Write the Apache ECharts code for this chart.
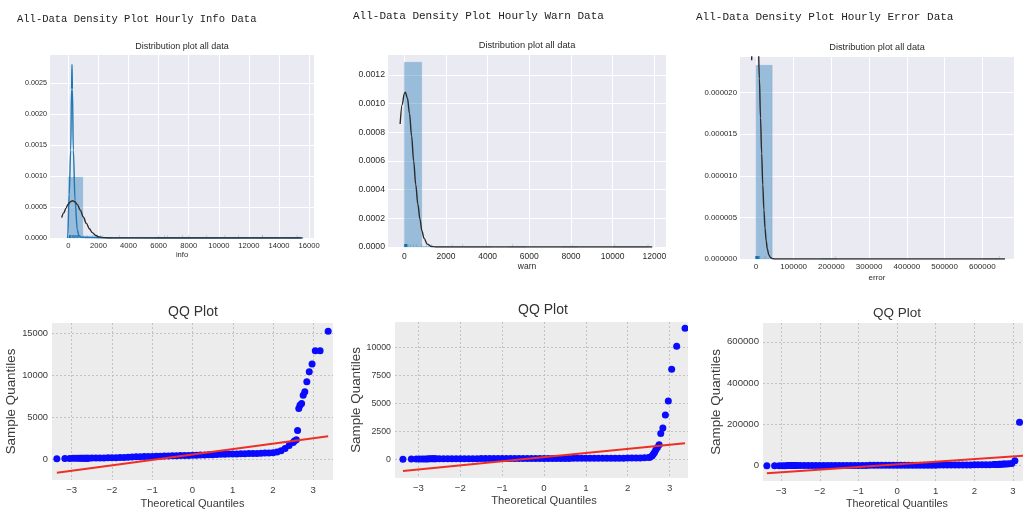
<!DOCTYPE html>
<html>
<head>
<meta charset="utf-8">
<script src="https://cdn.jsdelivr.net/npm/echarts@6/dist/echarts.min.js"></script>
<style>
  html, body { margin: 0; padding: 0; background: #ffffff; }
  #chart { width: 1023px; height: 512px; }
</style>
</head>
<body>
<div id="chart"></div>
<script>
// ---------- headers ----------
const headerInfo = 'All-Data Density Plot Hourly Info Data';
const headerWarn = 'All-Data Density Plot Hourly Warn Data';
const headerError = 'All-Data Density Plot Hourly Error Data';
const histTitle = 'Distribution plot all data';
const qqTitle = 'QQ Plot';

// ---------- histogram bins: [from, to, density] ----------
const infoHist = [[0, 960, 0.00098], [960, 1920, 0.00003], [1920, 2880, 0.000006], [5760, 6720, 0.000006],
  [6720, 7680, 0.000004], [7680, 8640, 0.000004], [8640, 9600, 0.000002], [9600, 10560, 0.000002],
  [10560, 11520, 0.000002], [12480, 13440, 0.000004], [14400, 15360, 0.000002]];
const warnHist = [[0, 835, 0.00129], [835, 1670, 0.000003], [1670, 2505, 0.000002], [2505, 3340, 0.000001],
  [3340, 4175, 0.000001], [5010, 5845, 0.000001], [7515, 8350, 0.000001], [10020, 10855, 0.000001],
  [10855, 11700, 0.000001]];
const errorHist = [[0, 43000, 0.0000233], [172000, 215000, 0.00000002], [602000, 645000, 0.00000002]];

// ---------- fitted normal curves: [x, density] ----------
const infoFit = [[-440, 0.000328], [-300, 0.000405], [-150, 0.000482], [0, 0.000546], [150, 0.000587],
  [290, 0.0006], [450, 0.000583], [600, 0.000538], [800, 0.000447], [1000, 0.000339], [1200, 0.000235],
  [1400, 0.000149], [1600, 0.0000864], [1800, 0.0000455], [2000, 0.000022], [2300, 0.0000062],
  [2700, 0.0000008], [3200, 0], [15500, 0]];
const warnFit = [[-200, 0.000858], [-100, 0.000994], [0, 0.00107], [50, 0.00108], [150, 0.00104],
  [250, 0.000932], [350, 0.000776], [450, 0.0006], [550, 0.000435], [650, 0.0003], [750, 0.000195],
  [850, 0.00011], [950, 0.00006], [1100, 0.00002], [1300, 0.000004], [1500, 0.0000005], [1700, 0], [11900, 0]];
const errorFit = [[-11500, 0.0000239], [-8000, 0.0000284], [-4000, 0.0000315], [-2000, 0.0000319],
  [0, 0.0000315], [3000, 0.0000294], [6000, 0.000026], [9000, 0.0000217], [12000, 0.000017],
  [15000, 0.0000127], [18000, 0.0000089], [21000, 0.0000059], [24000, 0.0000037], [27000, 0.0000022],
  [30000, 0.0000012], [34000, 0.0000005], [38000, 0.0000002], [43000, 0.00000005], [50000, 0], [660000, 0]];

// ---------- kernel density of the info counts ----------
const infoKde = [[-60, 0], [-40, 0.00003], [60, 0.0007], [160, 0.00142], [215, 0.0024], [245, 0.0028],
  [275, 0.0024], [333, 0.00142], [450, 0.0006], [600, 0.00013], [700, 0.00004], [850, 0.000012],
  [1200, 0.000008], [2000, 0.000005], [3000, 0.000002], [6000, 0.000001], [15600, 0]];

// ---------- QQ plots: theoretical quantiles and sorted samples ----------
const qqTheo = [-3.37, -3.17, -3.05, -2.97, -2.90, -2.84, -2.79, -2.75, -2.71, -2.67, -2.64, -2.61, -2.58,
  -2.5, -2.4, -2.3, -2.2, -2.1, -2.0, -1.9, -1.8, -1.7, -1.6, -1.5, -1.4, -1.3, -1.2, -1.1, -1.0,
  -0.9, -0.8, -0.7, -0.6, -0.5, -0.4, -0.3, -0.2, -0.1, 0.0, 0.1, 0.2, 0.3, 0.4, 0.5, 0.6, 0.7, 0.8,
  0.9, 1.0, 1.1, 1.2, 1.3, 1.4, 1.5, 1.6, 1.7, 1.8, 1.9, 2.0, 2.1, 2.2, 2.3, 2.4, 2.5,
  2.53, 2.58, 2.61, 2.64, 2.67, 2.71, 2.75, 2.79, 2.84, 2.90, 2.97, 3.05, 3.17, 3.37];
const qqInfo = [40, 60, 70, 75, 80, 85, 85, 90, 90, 95, 95, 100, 100,
  110, 115, 120, 130, 135, 145, 155, 165, 180, 200, 240, 260, 275, 285, 295, 305,
  315, 330, 345, 360, 380, 400, 410, 420, 430, 440, 455, 470, 480, 500, 520, 540, 555, 570,
  585, 600, 610, 620, 630, 640, 650, 665, 680, 700, 720, 750, 820, 990, 1250, 1600, 1950,
  2150, 2300, 3400, 6000, 6400, 6600, 7600, 8000, 9200, 10400, 11300, 12900, 12900, 15200];
const qqWarn = [10, 20, 25, 30, 30, 35, 35, 40, 40, 40, 45, 45, 45,
  50, 50, 52, 54, 55, 56, 57, 58, 59, 60, 61, 62, 63, 64, 65, 66,
  67, 68, 69, 70, 71, 72, 73, 74, 75, 76, 77, 78, 79, 80, 81, 82, 83, 84,
  85, 86, 87, 88, 89, 90, 92, 94, 96, 98, 100, 105, 110, 115, 125, 140, 160,
  180, 300, 450, 600, 830, 1050, 1300, 2300, 2800, 3950, 5200, 8050, 10100, 11700];
const qqError = [100, 200, 300, 350, 400, 450, 500, 500, 550, 550, 600, 600, 650,
  800, 850, 900, 950, 1000, 1050, 1100, 1150, 1200, 1250, 1300, 1350, 1400, 1450, 1500, 1550,
  1600, 1650, 1700, 1750, 1800, 1850, 1900, 1950, 2000, 2050, 2100, 2150, 2200, 2250, 2300, 2400, 2500, 2600,
  2700, 2800, 2900, 3000, 3100, 3200, 3300, 3450, 3600, 3750, 3900, 4100, 4300, 4500, 4800, 5100, 5500,
  5800, 6000, 6300, 6600, 7000, 7400, 7800, 8200, 8700, 9300, 10500, 24000, 210000, 645000];

// ---------- QQ reference lines ----------
const qqInfoLine = [[-3.37, -1650], [3.37, 2720]];
const qqWarnLine = [[-3.37, -1050], [3.37, 1430]];
const qqErrorLine = [[-3.37, -37000], [3.37, 50000]];

// ---------- tick values ----------
const infoXTicks = [0, 2000, 4000, 6000, 8000, 10000, 12000, 14000, 16000];
const infoYTicks = [0, 0.0005, 0.001, 0.0015, 0.002, 0.0025];
const warnXTicks = [0, 2000, 4000, 6000, 8000, 10000, 12000];
const warnYTicks = [0, 0.0002, 0.0004, 0.0006, 0.0008, 0.001, 0.0012];
const errorXTicks = [0, 100000, 200000, 300000, 400000, 500000, 600000];
const errorYTicks = [0, 0.000005, 0.00001, 0.000015, 0.00002];
const qqXTicks = [-3, -2, -1, 0, 1, 2, 3];
const qqInfoYTicks = [0, 5000, 10000, 15000];
const qqWarnYTicks = [0, 2500, 5000, 7500, 10000];
const qqErrorYTicks = [0, 200000, 400000, 600000];

// ---------- styling helpers ----------
const SANS = "'Liberation Sans', Arial, sans-serif";
const MONO = "'Liberation Mono', 'Courier New', monospace";
const TOP_TEXT = '#2a2a2a';
const QQ_TEXT = '#3a3a3a';
const plain = v => String(v);

function topX(grid, min, max, ticks, name, fs, gap, margin) {
  return {
    gridIndex: grid, type: 'value', min: min, max: max,
    axisLine: { show: false },
    axisTick: { show: false, customValues: ticks },
    axisLabel: { customValues: ticks, fontSize: fs, color: TOP_TEXT, fontFamily: SANS, margin: margin,
      formatter: plain },
    splitLine: { show: true, lineStyle: { color: '#ffffff', width: 1 } },
    name: name, nameLocation: 'middle', nameGap: gap,
    nameTextStyle: { fontSize: fs, color: TOP_TEXT, fontFamily: SANS }
  };
}
function topY(grid, max, ticks, digits, fs) {
  return {
    gridIndex: grid, type: 'value', min: 0, max: max,
    axisLine: { show: false },
    axisTick: { show: false, customValues: ticks },
    axisLabel: { customValues: ticks, fontSize: fs, color: TOP_TEXT, fontFamily: SANS, margin: 3,
      formatter: v => v.toFixed(digits) },
    splitLine: { show: true, lineStyle: { color: '#ffffff', width: 1 } }
  };
}
function qqX(grid, min, max, fs, nameFs, gap, shift) {
  return {
    gridIndex: grid, type: 'value', min: min, max: max,
    axisLine: { show: false },
    axisTick: { show: false, customValues: qqXTicks },
    axisLabel: { customValues: qqXTicks, fontSize: fs, color: QQ_TEXT, fontFamily: SANS, margin: 5,
      formatter: v => (v < 0 ? '\u2212' + Math.abs(v) : String(v)) },
    splitLine: { show: true, lineStyle: { color: '#b8b8b8', width: 0.8, type: [2, 2] } },
    name: 'Theoretical Quantiles', nameLocation: 'middle', nameGap: gap,
    nameTextStyle: { fontSize: nameFs, color: QQ_TEXT, fontFamily: SANS, padding: [0, 0, 0, shift] }
  };
}
function qqY(grid, min, max, ticks, fs, gap) {
  return {
    gridIndex: grid, type: 'value', min: min, max: max,
    axisLine: { show: false },
    axisTick: { show: false, customValues: ticks },
    axisLabel: { customValues: ticks, fontSize: fs, color: QQ_TEXT, fontFamily: SANS, margin: 4,
      formatter: plain },
    splitLine: { show: true, lineStyle: { color: '#b8b8b8', width: 0.8, type: [2, 2] } },
    name: 'Sample Quantiles', nameLocation: 'middle', nameGap: gap,
    nameTextStyle: { fontSize: 13.4, color: QQ_TEXT, fontFamily: SANS }
  };
}

function histSeries(idx, bins) {
  return {
    type: 'custom', xAxisIndex: idx, yAxisIndex: idx, data: bins, silent: true,
    encode: { x: [0, 1], y: 2 },
    renderItem: (params, api) => {
      const a = api.coord([api.value(0), api.value(2)]);
      const b = api.coord([api.value(1), 0]);
      return {
        type: 'rect',
        shape: { x: a[0], y: a[1], width: b[0] - a[0], height: b[1] - a[1] },
        style: { fill: 'rgba(31,119,180,0.4)', stroke: 'rgba(31,119,180,0.25)', lineWidth: 0.6 }
      };
    }
  };
}
function curveSeries(idx, pts, color) {
  return {
    type: 'line', xAxisIndex: idx, yAxisIndex: idx, data: pts, symbol: 'none',
    smooth: 0.35, smoothMonotone: 'x', clip: true, silent: true,
    lineStyle: { color: color, width: 1.4 }, z: 4
  };
}
function rugSeries(idx, values) {
  return {
    type: 'scatter', xAxisIndex: idx, yAxisIndex: idx, silent: true,
    data: values.map(v => [v, 0]),
    symbol: 'rect', symbolSize: [0.8, 3], symbolOffset: [0, -1.5],
    itemStyle: { color: 'rgba(31,119,180,0.35)' }, z: 3
  };
}
function qqPoints(idx, samples) {
  return {
    type: 'scatter', xAxisIndex: idx, yAxisIndex: idx, silent: true,
    data: qqTheo.map((t, i) => [t, samples[i]]),
    symbol: 'circle', symbolSize: 7,
    itemStyle: { color: '#0a0aff', opacity: 1 }, z: 2
  };
}
function qqLine(idx, pts) {
  return {
    type: 'line', xAxisIndex: idx, yAxisIndex: idx, data: pts, symbol: 'none', silent: true,
    clip: true, lineStyle: { color: '#ee3024', width: 2 }, z: 3
  };
}
function textTitle(text, x, y, fs, family, color, align) {
  return {
    text: text, left: x, top: y, padding: 0, textAlign: align,
    textStyle: { fontSize: fs, fontFamily: family, fontWeight: 'normal', color: color }
  };
}

const chart = echarts.init(document.getElementById('chart'), null, { renderer: 'canvas' });

chart.setOption({
  backgroundColor: '#ffffff',
  animation: false,
  title: [
    textTitle(headerInfo, 17, 14, 10.5, MONO, '#222222', 'left'),
    textTitle(headerWarn, 353, 11, 11, MONO, '#222222', 'left'),
    textTitle(headerError, 696, 12, 11, MONO, '#222222', 'left'),
    textTitle(histTitle, 182, 42, 9, SANS, '#2a2a2a', 'center'),
    textTitle(histTitle, 527, 41, 9.3, SANS, '#2a2a2a', 'center'),
    textTitle(histTitle, 877, 43, 9.2, SANS, '#2a2a2a', 'center'),
    textTitle(qqTitle, 193, 305, 14, SANS, '#333333', 'center'),
    textTitle(qqTitle, 543, 303, 14, SANS, '#333333', 'center'),
    textTitle(qqTitle, 897, 306, 13.5, SANS, '#333333', 'center')
  ],
  grid: [
    { left: 50, top: 55, width: 264, height: 183, show: true, backgroundColor: '#eaeaf2', borderWidth: 0 },
    { left: 388, top: 55, width: 278, height: 192, show: true, backgroundColor: '#eaeaf2', borderWidth: 0 },
    { left: 740, top: 57, width: 274, height: 202, show: true, backgroundColor: '#eaeaf2', borderWidth: 0 },
    { left: 52, top: 323, width: 281, height: 157, show: true, backgroundColor: '#ececec', borderWidth: 0 },
    { left: 395, top: 322, width: 298, height: 156, show: true, backgroundColor: '#ececec', borderWidth: 0 },
    { left: 763, top: 323, width: 260, height: 158, show: true, backgroundColor: '#ececec', borderWidth: 0 }
  ],
  xAxis: [
    topX(0, -1216, 16325, infoXTicks, 'info', 7.6, 13, 4),
    topX(1, -782, 12560, warnXTicks, 'warn', 8.5, 15, 5),
    topX(2, -42400, 684000, errorXTicks, 'error', 8, 15, 4),
    qqX(3, -3.49, 3.49, 9.6, 11, 18, 0),
    qqX(4, -3.56, 3.56, 9.6, 11.2, 17, 0),
    qqX(5, -3.47, 3.26, 9.6, 10.8, 18, 8)
  ],
  yAxis: [
    topY(0, 0.00295, infoYTicks, 4, 7.2),
    topY(1, 0.00134, warnYTicks, 4, 8.7),
    topY(2, 0.0000243, errorYTicks, 6, 7.8),
    qqY(3, -2500, 16190, qqInfoYTicks, 9.3, 28),
    qqY(4, -1670, 12260, qqWarnYTicks, 8.8, 25),
    qqY(5, -74000, 691000, qqErrorYTicks, 9.6, 32)
  ],
  series: [
    histSeries(0, infoHist),
    rugSeries(0, qqInfo),
    curveSeries(0, infoKde, '#1f77b4'),
    curveSeries(0, infoFit, '#2b2b2b'),
    histSeries(1, warnHist),
    rugSeries(1, qqWarn),
    curveSeries(1, warnFit, '#2b2b2b'),
    histSeries(2, errorHist),
    rugSeries(2, qqError),
    curveSeries(2, errorFit, '#2b2b2b'),
    qqPoints(3, qqInfo),
    qqLine(3, qqInfoLine),
    qqPoints(4, qqWarn),
    qqLine(4, qqWarnLine),
    qqPoints(5, qqError),
    qqLine(5, qqErrorLine)
  ],
  graphic: [
    // gap between the middle and right QQ panels
    { type: 'rect', z: 100, shape: { x: 688, y: 300, width: 14, height: 212 }, style: { fill: '#ffffff' } }
  ]
});
</script>
</body>
</html>
